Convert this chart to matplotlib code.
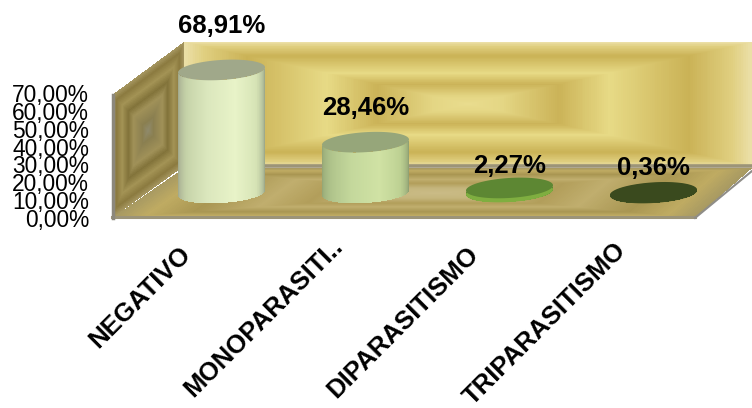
import numpy as np
import matplotlib
matplotlib.use("Agg")
import matplotlib.pyplot as plt
from matplotlib.colors import LinearSegmentedColormap as LSC
from matplotlib.transforms import ScaledTranslation

categories = ["NEGATIVO", "MONOPARASITI..", "DIPARASITISMO", "TRIPARASITISMO"]
values = [68.91, 28.46, 2.27, 0.36]
value_labels = ["68,91%", "28,46%", "2,27%", "0,36%"]
ytick_values = [0, 10, 20, 30, 40, 50, 60, 70]
ytick_labels = ["0,00%", "10,00%", "20,00%", "30,00%", "40,00%", "50,00%", "60,00%", "70,00%"]

W, H = 752, 408
plt.rcParams['font.family'] = ['Liberation Sans', 'DejaVu Sans']
fig = plt.figure(figsize=(W/100, H/100), dpi=100)
ax = fig.add_axes([0, 0, 1, 1])

PXU = 144.0      # px per category
PXV = 125/70     # px per percent
X0, Y0 = 221.5, 218.0
ax.set_xlim(-X0/PXU, (W-X0)/PXU)
ax.set_ylim((Y0-H)/PXV, Y0/PXV)
for s in ax.spines.values():
    s.set_visible(False)
ax.set_axisbelow(False)
ax.patch.set_visible(False)

def dx(px): return (px-X0)/PXU
def dy(py): return (Y0-py)/PXV

# --- tick labels through the axis itself
ax.set_yticks(ytick_values, ytick_labels, fontsize=16.4)
ax.tick_params(axis='y', length=0, direction='in', pad=-89*0.72)
ax.set_xticks(np.arange(len(categories))-0.3, categories, fontsize=18.5, fontweight='bold',
              rotation=45, ha='right', rotation_mode='anchor')
ax.tick_params(axis='x', length=0, direction='in', pad=-166*0.72)
fig.canvas.draw()
for _k, _d in ((1, 8), (3, 4)):
    _lab = ax.get_xticklabels()[_k]
    _lab.set_transform(_lab.get_transform() + ScaledTranslation(_d/100, _d/100, fig.dpi_scale_trans))

def ramp(n=300, m=300):
    u = np.linspace(-1, 1, n)
    v = np.linspace(-1, 1, m)
    return np.maximum(np.abs(u)[None, :], np.abs(v)[:, None])

def quad(corners, cols, stops, ni=300, nj=200, zorder=1):
    """corners in px: bottom-left, bottom-right, top-right, top-left"""
    (a, b, c, d) = [np.array(p, float) for p in corners]
    s = np.linspace(0, 1, ni+1)[None, :, None]
    t = np.linspace(0, 1, nj+1)[:, None, None]
    P = (1-t)*((1-s)*a+s*b) + t*((1-s)*d+s*c)
    cm = LSC.from_list("w", list(zip(stops, cols)))
    D = ramp(ni, nj)
    ax.pcolormesh(dx(P[..., 0]), dy(P[..., 1]), cm(D)[..., :3], zorder=zorder,
                  shading='flat', rasterized=True, linewidth=0, antialiased=False)

stops = [0, .12, .32, .5, .78, .93, 1]
quad([(184, 166), (752, 166), (752, 42), (184, 42)],
     ["#e9dc8e", "#e4d684", "#cbb358", "#e7da86", "#cab256", "#dfce7e", "#ebdfa6"], stops)
quad([(112, 218), (184, 166), (184, 42), (112, 95)],
     ["#8f8a6c", "#8a7f50", "#a09158", "#82733a", "#a39355", "#8b7a3f", "#a59660"],
     [0, .15, .4, .55, .72, .88, 1])
quad([(112, 218), (695, 218), (752, 168), (184, 168)],
     ["#cabb86", "#c4b57c", "#b29e5a", "#c0ae6e", "#a99652", "#bfab62", "#a89a62"],
     [0, .2, .4, .55, .75, .9, 1])
# edges
edge = "#9c9478"
ax.plot(dx(np.array([184, 752])), dy(np.array([166, 166])), color=edge, lw=2.6, zorder=1.5)
ax.plot(dx(np.array([112, 695])), dy(np.array([217, 217])), color=edge, lw=2.2, zorder=1.5)
ax.plot(dx(np.array([695, 752])), dy(np.array([218, 171])), color="#8f8d88", lw=1.5, zorder=1.5)
ax.plot(dx(np.array([113, 113])), dy(np.array([95, 218])), color="#8c887c", lw=2.5, zorder=1.5)

# --- cylinders, heights from the data
RX, RY, TILT = 43.5, 10.0, -0.06
BASE_Y = 193.0
bodies = [["#9aa088", "#c5d2a8", "#dbe7bd", "#e8f3c8", "#d5e2b4", "#8f9a80"],
          ["#8fa070", "#aec28a", "#c4d89c", "#d0e2a4", "#bcd092", "#84946a"],
          ["#4f7a28", "#7fae40", "#7fae40", "#7fae40", "#6a9a34", "#4f7a28"],
          ["#2f3d18", "#3f4f20", "#3f4f20", "#3f4f20", "#3a4a1e", "#2f3d18"]]
tops = ["#a0a88a", "#96a67a", "#5d8733", "#3a4a1e"]
label_gap = [44, 34, 22, 24]
base_off = [0, 0, -1, 0]

for i, v in enumerate(values):
    cx = X0 + i*PXU
    th = np.linspace(0, np.pi, 121)
    xs = cx - RX*np.cos(th)
    base = BASE_Y + base_off[i]
    bot = base + RY*np.sin(th) + TILT*(xs-cx)
    top = base - v*PXV
    upper = top + TILT*(xs-cx) + RY*np.sin(th)
    Xg = np.vstack([xs, xs])
    Yg = np.vstack([dy(bot), dy(upper)])
    cm = LSC.from_list("b", bodies[i])
    col = cm((np.arange(120)+.5)/120)[:, :3][None, :, :]
    ax.pcolormesh(dx(Xg), Yg, col, zorder=3, shading='flat', linewidth=0, antialiased=False)
    t = np.linspace(0, 2*np.pi, 200)
    ex = cx + RX*np.cos(t)
    ey = top + RY*np.sin(t) + TILT*(ex-cx)
    if v < 5:
        ey2 = base + RY*np.sin(t) + TILT*(ex-cx)
        ax.fill(dx(ex), dy(ey2), color=bodies[i][1], zorder=3, lw=0)
    ax.fill(dx(ex), dy(ey), color=tops[i], zorder=4, lw=0)
    ax.text(i, v + dy(base) + label_gap[i]/PXV, value_labels[i],
            ha='center', va='center', fontsize=18.5, fontweight='bold', color='black', zorder=5)

fig.savefig("out.png", dpi=100)
